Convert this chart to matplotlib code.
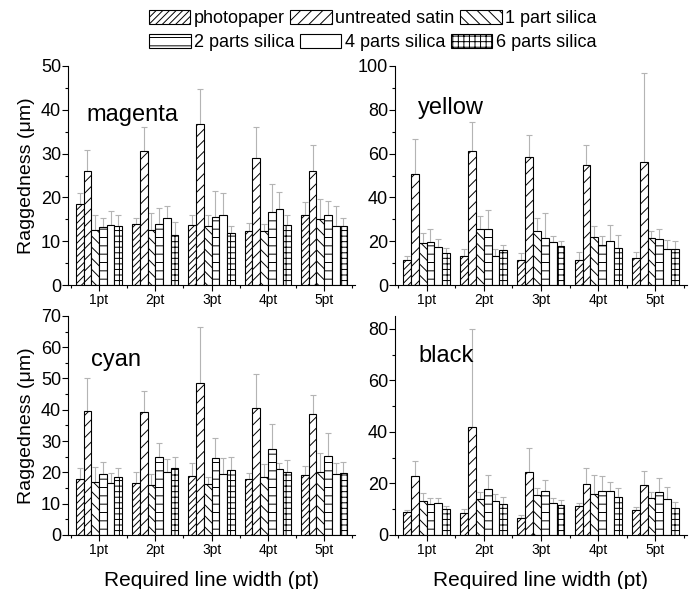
import numpy as np
import matplotlib
matplotlib.use('Agg')
import matplotlib.pyplot as plt
from matplotlib.ticker import MultipleLocator
from matplotlib.patches import Patch

plt.rcParams['font.family'] = ['Liberation Sans', 'DejaVu Sans']
plt.rcParams['hatch.linewidth'] = 0.7

# categories / series
widths = ['1pt', '2pt', '3pt', '4pt', '5pt']
papers = ['photopaper', 'untreated satin', '1 part silica',
          '2 parts silica', '4 parts silica', '6 parts silica']

# mean raggedness (um), one row per paper, columns = line width
magenta = [[18.5, 13.9, 13.8, 12.4, 16.1],
           [26.1, 30.7, 36.8, 29.1, 26.1],
           [12.6, 12.6, 13.5, 12.3, 15.1],
           [13.2, 13.9, 15.6, 16.7, 15.9],
           [13.6, 15.4, 16.1, 17.4, 13.4],
           [13.5, 11.5, 11.9, 13.6, 13.4]]
magenta_top = [[21.1, 15.3, 16.0, 14.2, 19.0],
               [30.8, 36.1, 44.7, 36.0, 32.0],
               [16.1, 16.4, 16.1, 13.9, 19.6],
               [15.4, 17.5, 21.5, 23.1, 19.3],
               [17.0, 18.0, 21.1, 21.2, 18.0],
               [16.0, 14.5, 13.5, 16.1, 15.3]]

yellow = [[11.4, 13.2, 11.4, 11.4, 12.3],
          [50.7, 61.2, 58.3, 54.6, 56.2],
          [19.3, 25.6, 24.7, 21.8, 21.3],
          [19.8, 25.6, 21.3, 18.3, 21.2],
          [17.2, 13.2, 19.6, 19.9, 16.4],
          [14.6, 16.0, 17.8, 16.9, 16.6]]
yellow_top = [[13.4, 16.4, 14.8, 15.1, 14.9],
              [66.5, 74.6, 68.5, 64.1, 96.6],
              [23.6, 31.5, 30.4, 26.9, 24.8],
              [25.4, 34.2, 32.7, 22.4, 25.4],
              [21.2, 16.3, 22.4, 27.2, 20.4],
              [17.0, 18.3, 20.2, 22.8, 19.9]]

cyan = [[17.8, 16.7, 18.9, 17.8, 19.1],
        [39.5, 39.3, 48.5, 40.5, 38.5],
        [16.8, 16.0, 16.3, 18.6, 20.2],
        [19.5, 24.9, 24.6, 27.4, 25.3],
        [16.7, 20.1, 19.5, 21.1, 19.4],
        [18.5, 21.5, 20.7, 20.2, 19.7]]
cyan_top = [[21.3, 20.1, 22.9, 19.9, 22.1],
            [50.3, 46.0, 66.6, 51.5, 44.7],
            [21.8, 19.5, 18.6, 22.7, 26.3],
            [23.4, 29.3, 31.0, 35.3, 32.5],
            [19.7, 24.2, 24.5, 23.1, 22.9],
            [21.3, 24.8, 24.8, 24.0, 23.4]]

black = [[8.9, 8.4, 6.5, 11.4, 9.7],
         [22.9, 41.8, 24.6, 19.7, 19.3],
         [13.1, 13.9, 15.5, 15.8, 14.2],
         [12.0, 17.9, 17.0, 17.2, 16.7],
         [12.3, 13.2, 12.6, 17.1, 13.9],
         [10.0, 12.0, 11.7, 14.6, 10.4]]
black_top = [[9.7, 10.2, 7.6, 12.3, 10.7],
             [28.6, 79.9, 33.8, 25.9, 24.9],
             [16.2, 16.8, 18.1, 23.3, 16.6],
             [14.2, 23.3, 21.2, 22.9, 22.0],
             [14.4, 15.8, 14.2, 20.5, 18.5],
             [11.4, 14.6, 13.5, 18.1, 12.8]]

hatches = ['/////', '///', '\\\\\\', '--', '', '+++']

panels = [('magenta', magenta, magenta_top, 50, 10, [0.0986, 0.516, 0.416, 0.372], 0.75),
          ('yellow', yellow, yellow_top, 100, 20, [0.5725, 0.516, 0.423, 0.372], 0.78),
          ('cyan', cyan, cyan_top, 70, 10, [0.0986, 0.0917, 0.416, 0.372], 0.77),
          ('black', black, black_top, 85, 20, [0.5725, 0.0917, 0.423, 0.372], 0.79)]

fig = plt.figure(figsize=(6.9, 5.89), dpi=100)
x = np.arange(1, 6)
bw = 0.137

for name, vals, tops, ymax, ystep, rect, ty in panels:
    ax = fig.add_axes(rect)
    vals = np.array(vals)
    tops = np.array(tops)
    for i in range(6):
        xi = x + (i - 2.5) * bw
        err = tops[i] - vals[i]
        ax.bar(xi, vals[i], bw, color='white', edgecolor='black',
               linewidth=0.8, hatch=hatches[i], zorder=2)
        ax.errorbar(xi, vals[i], yerr=[np.zeros(5), err], fmt='none',
                    ecolor='#b4b4b4', elinewidth=0.8, capsize=2.5,
                    capthick=0.8, zorder=1)
    ax.set_xlim(0.45, 5.55)
    ax.set_ylim(0, ymax)
    ax.yaxis.set_major_locator(MultipleLocator(ystep))
    ax.yaxis.set_minor_locator(MultipleLocator(ystep / 2))
    ax.set_xticks(x)
    ax.set_xticklabels(widths, fontsize=10)
    ax.xaxis.set_minor_locator(MultipleLocator(0.5))
    ax.tick_params(axis='y', labelsize=13, length=4, width=0.8, pad=1)
    ax.tick_params(axis='x', length=4, width=0.8, pad=2)
    ax.tick_params(which='minor', length=2.5, width=0.8)
    ax.spines['top'].set_visible(False)
    ax.spines['right'].set_visible(False)
    ax.text(0.065 if name == 'magenta' else 0.08, ty, name,
            transform=ax.transAxes, fontsize=17)
    if rect[0] < 0.3:
        ax.set_ylabel('Raggedness (μm)', fontsize=14, labelpad=4)
    if rect[1] < 0.3:
        ax.set_xlabel('Required line width (pt)', fontsize=15, labelpad=10)

handles = [Patch(facecolor='white', edgecolor='black', linewidth=0.8, hatch=h)
           for h in hatches]
fig.legend(handles[:3], papers[:3], ncol=3, loc='upper right',
           bbox_to_anchor=(0.875, 0.995), frameon=False, fontsize=13,
           handlelength=2.3, handleheight=0.8, handletextpad=0.2,
           columnspacing=0.3, borderaxespad=0)
fig.legend(handles[3:], papers[3:], ncol=3, loc='upper right',
           bbox_to_anchor=(0.875, 0.955), frameon=False, fontsize=13,
           handlelength=2.3, handleheight=0.8, handletextpad=0.2,
           columnspacing=0.3, borderaxespad=0)

fig.savefig('out.png', dpi=100)
